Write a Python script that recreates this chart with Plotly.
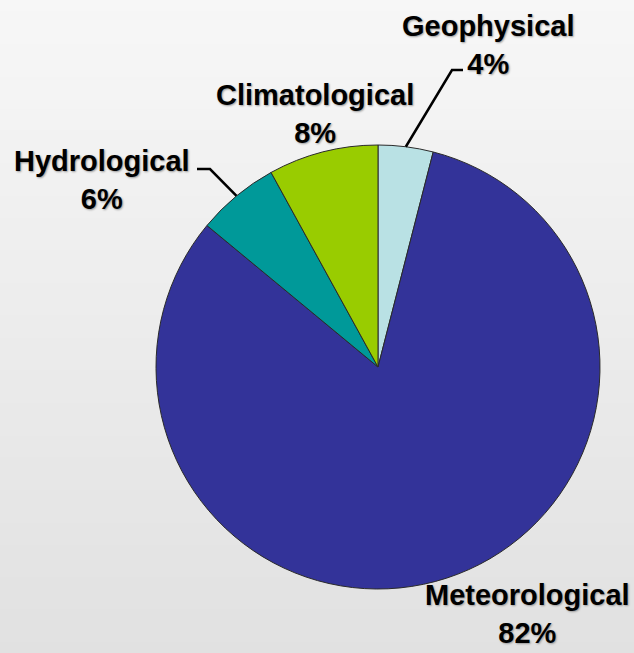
import math
import plotly.graph_objects as go

# ---- data ----
categories = ["Geophysical", "Meteorological", "Hydrological", "Climatological"]
shares = [4, 82, 6, 8]
colors = ["#b9e1e4", "#333399", "#009999", "#99cc00"]

W, H = 634, 653
CX, CY, R = 378, 367, 222  # pie centre / radius in pixels

def px(x):
    return x / W

def py(y):
    return 1 - y / H

fig = go.Figure()
fig.add_trace(go.Pie(
    labels=categories,
    values=shares,
    sort=False,
    direction="clockwise",
    rotation=0,
    marker=dict(colors=colors, line=dict(color="#2a2a2a", width=1)),
    textinfo="none",
    hoverinfo="label+percent",
    showlegend=False,
    domain=dict(x=[px(CX - R), px(CX + R)], y=[py(CY + R), py(CY - R)]),
))

# background gradient
shapes = []
N = 60
top, bot = 247, 225
for i in range(N):
    v = round(top + (bot - top) * (i + 0.5) / N)
    c = f"rgb({v},{v},{v})"
    shapes.append(dict(type="rect", xref="paper", yref="paper",
                       x0=0, x1=1, y0=1 - (i + 1) / N - 0.002, y1=1 - i / N,
                       fillcolor=c, line=dict(width=0), layer="below"))

# slice mid angles (clockwise from 12 o'clock)
total = sum(shares)
cum = 0
mids = {}
for cat, v in zip(categories, shares):
    mids[cat] = (cum + v / 2) / total * 360
    cum += v

def anchor(cat):
    a = math.radians(mids[cat])
    return CX + R * math.sin(a), CY - R * math.cos(a)

# label layout: (text pos, font size, leader elbow points)
label_cfg = {
    "Geophysical": dict(pos=(488, 45), size=29, leader=[(452, 70), (463, 70)]),
    "Climatological": dict(pos=(315, 114), size=29, leader=None),
    "Hydrological": dict(pos=(102, 180), size=29, leader=[(210, 169), (197, 169)]),
    "Meteorological": dict(pos=(527, 614), size=29, leader=None),
}

annotations = []
for cat, v in zip(categories, shares):
    cfg = label_cfg[cat]
    x, y = cfg["pos"]
    annotations.append(dict(
        x=px(x), y=py(y), xref="paper", yref="paper",
        text=f"<b>{cat}<br>{v}%</b>", showarrow=False,
        xanchor="center", yanchor="middle", align="center",
        font=dict(family="Liberation Sans, Arial, sans-serif", size=cfg["size"],
                  color="#000000", shadow="1px 1px 2px #9a9a9a"),
    ))
    if cfg["leader"]:
        ax, ay = anchor(cat)
        pts = [(ax, ay)] + cfg["leader"]
        path = "M " + " L ".join(f"{px(a)},{py(b)}" for a, b in pts)
        shapes.append(dict(type="path", xref="paper", yref="paper", path=path,
                           line=dict(color="#000000", width=2.5), layer="above"))

fig.update_layout(
    width=W, height=H,
    margin=dict(l=0, r=0, t=0, b=0),
    paper_bgcolor="#ececec",
    plot_bgcolor="#ececec",
    shapes=shapes,
    annotations=annotations,
)

fig.write_html("out.html", config={"displayModeBar": False})

# remove the default page margin so the figure fills the window
with open("out.html", "r", encoding="utf-8") as f:
    html = f.read()
html = html.replace("<body>", '<body style="margin:0;overflow:hidden">', 1)
with open("out.html", "w", encoding="utf-8") as f:
    f.write(html)
